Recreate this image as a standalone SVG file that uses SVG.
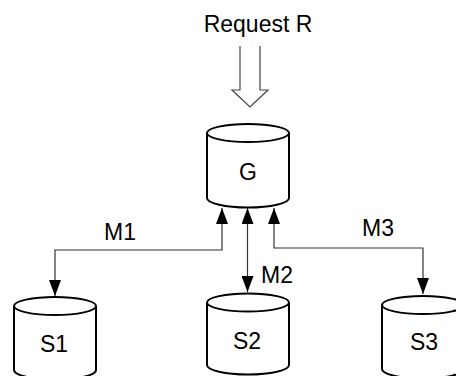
<svg xmlns="http://www.w3.org/2000/svg" width="456" height="376" viewBox="0 0 456 376">
<style>
.cyl{fill:#fff;stroke:#000;stroke-width:2}
.lbl{font-family:"Liberation Sans",Arial,sans-serif;font-size:23px;fill:#000}
.con{fill:none;stroke:#333;stroke-width:1.2}
.hollow{fill:none;stroke:#444;stroke-width:1.2}
</style>
<defs>
<marker id="ah" markerUnits="userSpaceOnUse" markerWidth="16" markerHeight="12" refX="16" refY="6" orient="auto-start-reverse">
<path d="M0,0 L16,6 L0,12 z" fill="#000"/>
</marker>
</defs>
<rect width="456" height="376" fill="#fff"/>
<g id="request">
<text class="lbl" x="258" y="32" text-anchor="middle">Request R</text>
<path class="hollow" d="M240,46 L240,90 L232,90 L250,107 L268,90 L260,90 L260,46"/>
</g>
<g id="connectors">
<path class="con" d="M222,208 L222,250 L55,250 L55,296" marker-start="url(#ah)" marker-end="url(#ah)"/>
<path class="con" d="M247.5,208 L247.5,292" marker-start="url(#ah)" marker-end="url(#ah)"/>
<path class="con" d="M274,208 L274,248 L423,248 L423,294" marker-start="url(#ah)" marker-end="url(#ah)"/>
<text class="lbl" x="104" y="240">M1</text>
<text class="lbl" x="261" y="283">M2</text>
<text class="lbl" x="362" y="236">M3</text>
</g>
<g id="G">
<path class="cyl" d="M207,133 L207,198 A41,9.5 0 0 0 289,198 L289,133"/>
<ellipse class="cyl" cx="248" cy="133" rx="41" ry="9"/>
<text class="lbl" x="248" y="180" text-anchor="middle">G</text>
</g>
<g id="S1">
<path class="cyl" d="M14,306 L14,370 A41,9.5 0 0 0 96,370 L96,306"/>
<ellipse class="cyl" cx="55" cy="306" rx="41" ry="9"/>
<text class="lbl" x="54" y="352" text-anchor="middle">S1</text>
</g>
<g id="S2">
<path class="cyl" d="M207,302.5 L207,365 A41,9.5 0 0 0 289,365 L289,302.5"/>
<ellipse class="cyl" cx="248" cy="302.5" rx="41" ry="9"/>
<text class="lbl" x="247" y="349" text-anchor="middle">S2</text>
</g>
<g id="S3">
<path class="cyl" d="M382,305 L382,369 A41,9.5 0 0 0 464,369 L464,305"/>
<ellipse class="cyl" cx="423" cy="305" rx="41" ry="9"/>
<text class="lbl" x="424" y="350" text-anchor="middle">S3</text>
</g>
</svg>
